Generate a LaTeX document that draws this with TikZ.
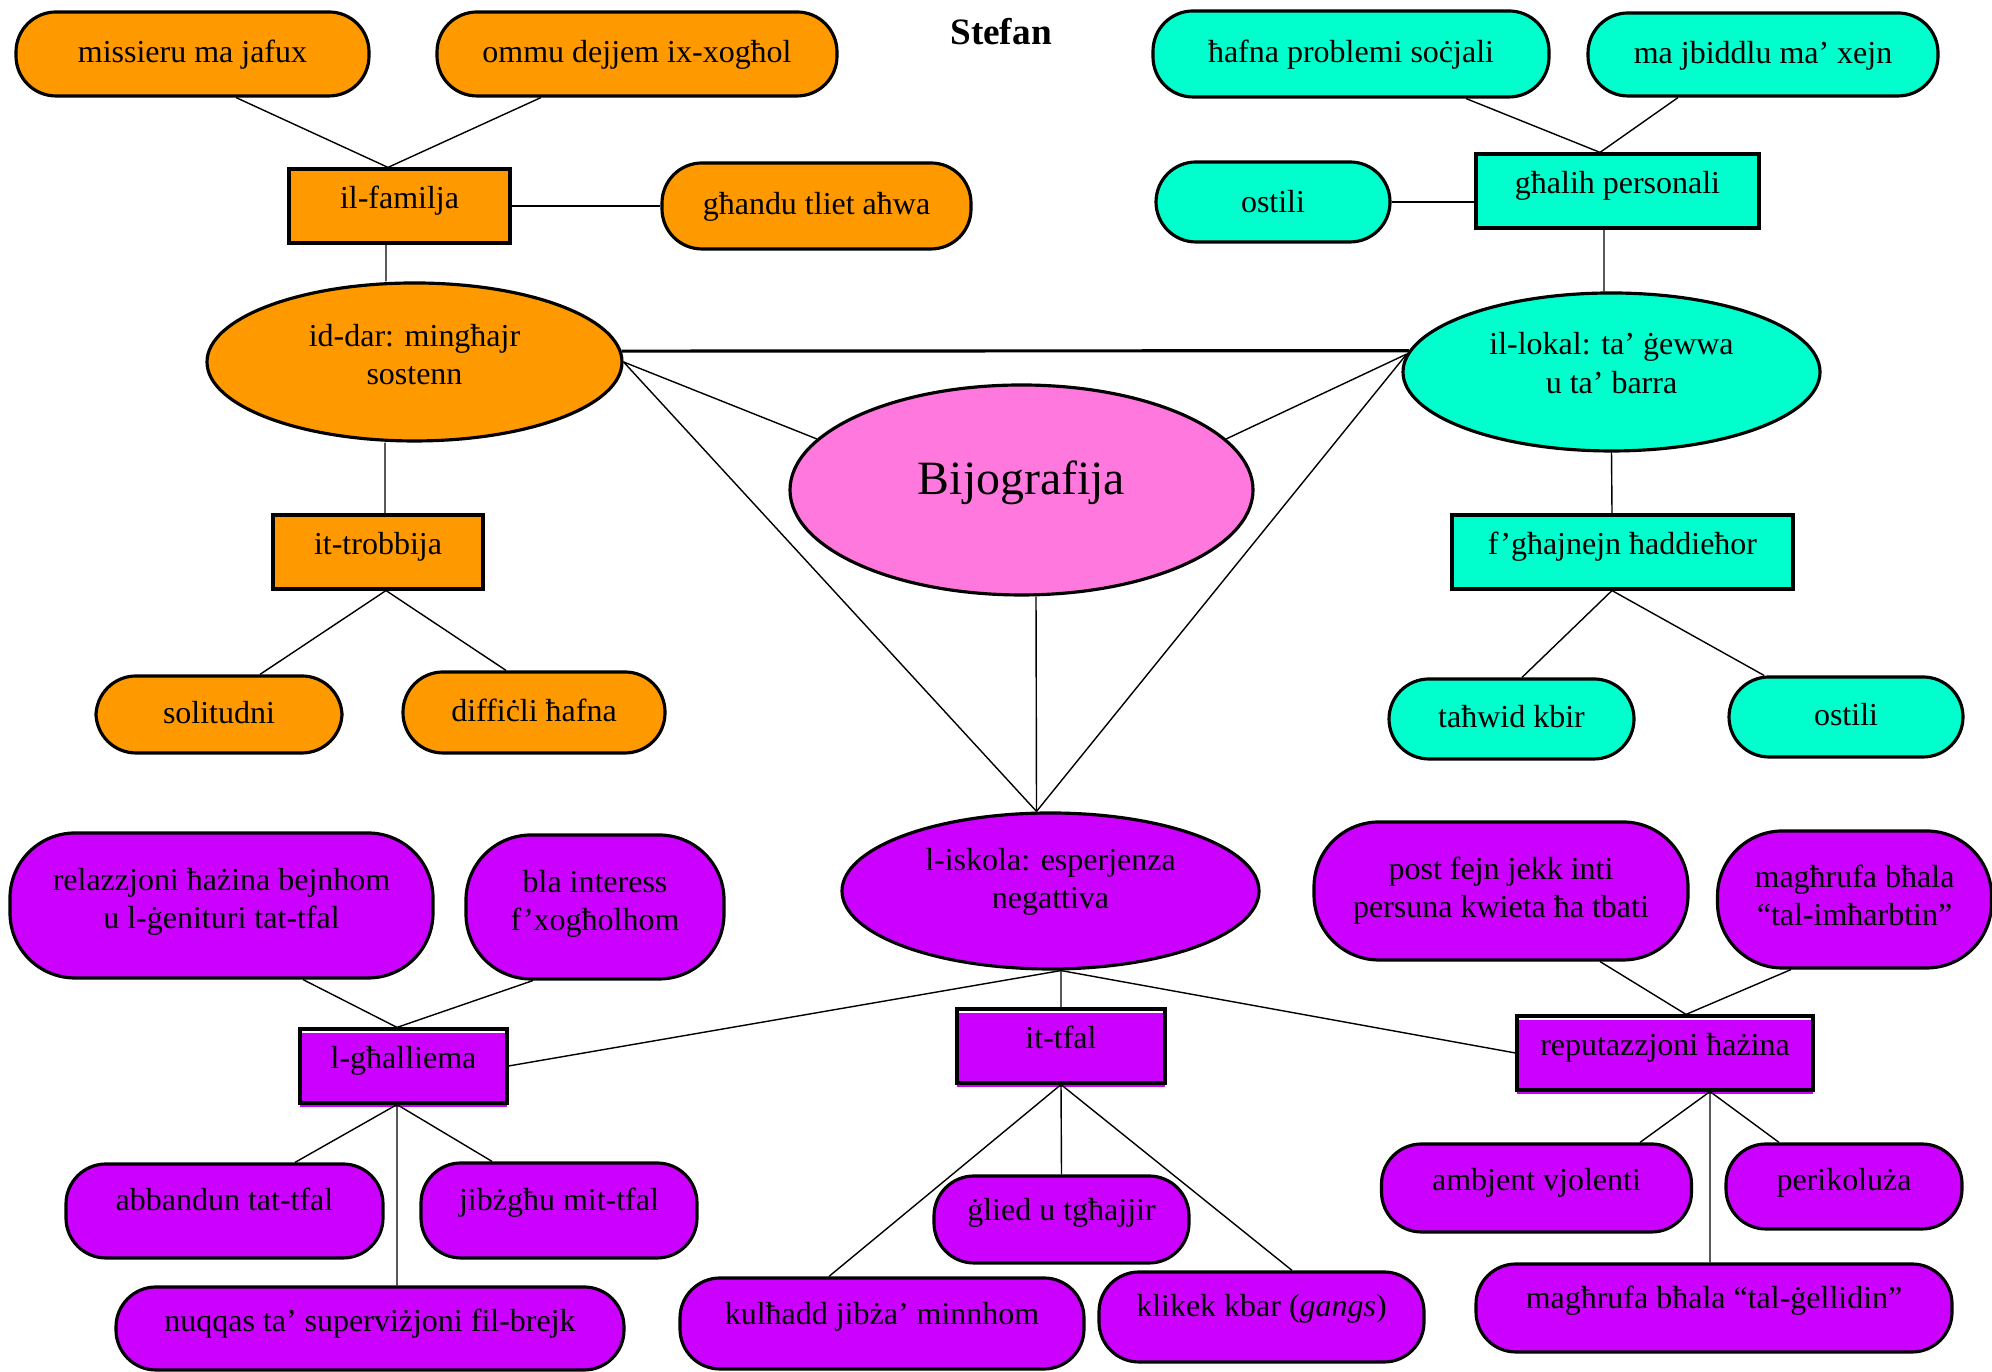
\documentclass[tikz,border=0pt]{standalone}
\usepackage{fontspec}
\setmainfont{Liberation Serif}
\usepackage{tikz}
\usetikzlibrary{calc,shapes.geometric}
\definecolor{orng}{rgb}{1.0, 0.6, 0.0}
\definecolor{aqua}{rgb}{0.0, 1.0, 0.8}
\definecolor{rosa}{rgb}{1.0, 0.47, 0.87}
\definecolor{purp}{rgb}{0.8, 0.0, 1.0}
\tikzset{
    mapnode/.style={draw, line width=0.9pt, inner sep=0pt, align=center,
        font=\fontsize{9.1}{10.9}\selectfont},
    sz/.style 2 args={minimum width=#1cm, minimum height=#2cm},
    pill/.style={mapnode, rectangle, rounded corners=0.4cm, fill=#1,
        text height=0.22cm, text depth=0.04cm},
    ppill/.style={pill=purp, text depth=0.2cm},
    tallpill/.style={mapnode, rectangle, rounded corners=0.65cm, fill=#1},
    box/.style={mapnode, rectangle, fill=#1, text height=0.22cm, text depth=0.16cm},
    sbox/.style={mapnode, rectangle, text height=0.22cm, text depth=0.16cm,
        preaction={fill=#1, transform canvas={yshift=-0.4mm}}},
    oval/.style={mapnode, ellipse, fill=#1},
    wire/.style={line width=0.4pt}
}

\begin{document}
\begin{tikzpicture}
\useasboundingbox (0,0) rectangle (19.92,13.72);
\node[font=\fontsize{10.6}{12}\selectfont\bfseries] (t0) at (10.01,13.40) {Stefan};

% family / home
\node[pill=orng, sz={3.53}{0.84}]      (f1) at (1.925,13.18)  {missieru ma jafux};
\node[pill=orng, sz={4.00}{0.84}]      (f2) at (6.37,13.18)   {ommu dejjem ix-xogħol};
\node[box=orng,  sz={2.21}{0.74}]      (f0) at (3.995,11.66)  {il-familja};
\node[pill=orng, sz={3.09}{0.86}]      (f3) at (8.165,11.66)  {għandu tliet aħwa};
\node[oval=orng, sz={4.15}{1.58}, text depth=0.15cm]
                                       (d0) at (4.145,10.10)  {id-dar: mingħajr\\sostenn};
\node[box=orng,  sz={2.10}{0.74}]      (d1) at (3.78,8.20)    {it-trobbija};
\node[pill=orng, sz={2.46}{0.77}]      (d2) at (2.19,6.575)   {solitudni};
\node[pill=orng, sz={2.62}{0.81}]      (d3) at (5.34,6.595)   {diffiċli ħafna};

% locality
\node[pill=aqua, sz={3.96}{0.86}]      (p1) at (13.51,13.18)  {ħafna problemi soċjali};
\node[pill=aqua, sz={3.50}{0.83}]      (p2) at (17.63,13.175) {ma jbiddlu ma’ xejn};
\node[pill=aqua, sz={2.34}{0.80}, text depth=0cm]
                                       (p3) at (12.73,11.70)  {ostili};
\node[box=aqua,  sz={2.83}{0.74}]      (p0) at (16.175,11.81) {għalih personali};
\node[oval=aqua, sz={4.17}{1.58}, text depth=0.18cm]
                                       (l0) at (16.115,10.00) {il-lokal: ta’ ġewwa\\u ta’ barra};
\node[box=aqua,  sz={3.41}{0.74}]      (g0) at (16.225,8.20)  {f’għajnejn ħaddieħor};
\node[pill=aqua, sz={2.45}{0.80}]      (g1) at (15.115,6.53)  {taħwid kbir};
\node[pill=aqua, sz={2.34}{0.80}]      (g2) at (18.46,6.55)   {ostili};

% centre
\node[oval=rosa, sz={4.63}{2.10}, font=\fontsize{13.6}{15}\selectfont, text depth=0.25cm]
                                       (b0) at (10.215,8.82)  {Bijografija};

% school
\node[oval=purp, sz={4.17}{1.56}, text depth=0.25cm]
                                       (s0) at (10.505,4.81)  {l-iskola: esperjenza\\negattiva};
\node[tallpill=purp, sz={4.23}{1.45}, text depth=0.135cm]
                                       (s2) at (2.215,4.665)  {relazzjoni ħażina bejnhom\\u l-ġenituri tat-tfal};
\node[tallpill=purp, sz={2.58}{1.44}, text depth=0.13cm]
                                       (s3) at (5.95,4.65)    {bla interess\\f’xogħolhom};
\node[tallpill=purp, sz={3.74}{1.38}]  (r1) at (15.01,4.81)   {post fejn jekk inti\\persuna kwieta ħa tbati};
\node[tallpill=purp, sz={2.74}{1.37}, text depth=0.08cm]
                                       (r2) at (18.545,4.725) {magħrufa bħala\\“tal-imħarbtin”};
\node[sbox=purp, sz={2.07}{0.74}]      (s1) at (4.035,3.06)   {l-għalliema};
\node[sbox=purp, sz={2.08}{0.74}]      (c0) at (10.61,3.26)   {it-tfal};
\node[sbox=purp, sz={2.96}{0.74}]      (r0) at (16.65,3.19)   {reputazzjoni ħażina};
\node[ppill,     sz={3.17}{0.94}, text depth=0.22cm]
                                       (s4) at (2.245,1.61)   {abbandun tat-tfal};
\node[ppill,     sz={2.76}{0.95}, text depth=0.21cm]
                                       (s5) at (5.59,1.615)   {jibżgħu mit-tfal};
\node[ppill,     sz={5.08}{0.83}, text depth=0.15cm]
                                       (s6) at (3.70,0.435)   {nuqqas ta’ superviżjoni fil-brejk};
\node[ppill,     sz={2.55}{0.87}]      (c1) at (10.615,1.525) {ġlied u tgħajjir};
\node[ppill,     sz={4.04}{0.91}]      (c2) at (8.82,0.485)   {kulħadd jibża’ minnhom};
\node[ppill,     sz={3.25}{0.90}, text depth=0.23cm]
                                       (c3) at (12.615,0.55)  {klikek kbar (\textit{gangs})};
\node[ppill,     sz={3.10}{0.88}, text depth=0.17cm]
                                       (r3) at (15.365,1.84)  {ambjent vjolenti};
\node[ppill,     sz={2.36}{0.85}, text depth=0.14cm]
                                       (r4) at (18.44,1.855)  {perikoluża};
\node[ppill,     sz={4.76}{0.88}]      (r5) at (17.14,0.64)   {magħrufa bħala “tal-ġellidin”};

% connectors
\coordinate (s0t) at ([xshift=-1.4mm]s0.north);
\coordinate (s0b) at ([xshift=1.05mm]s0.south);
\draw[wire] ([xshift=4.35mm]f1.south) -- ([xshift=-1.15mm]f0.north);
\draw[wire] ([xshift=-9.6mm]f2.south) -- ([xshift=-1.15mm]f0.north);
\draw[wire] (f0.east) -- (f3.west);
\draw[wire] ([xshift=-1.35mm]f0.south) -- ([xshift=-2.85mm]d0.north);
\draw[wire] ([xshift=-2.95mm]d0.south) -- ([xshift=0.7mm]d1.north);
\draw[wire] ([xshift=0.8mm]d1.south) -- ([xshift=4.1mm]d2.north);
\draw[wire] ([xshift=0.8mm]d1.south) -- ([xshift=-2.8mm]d3.north);
\draw[line width=0.9pt] (d0.3) -- (l0.174);
\draw[wire] (d0.east) -- (b0.166);
\draw[wire] (d0.east) -- (s0t);
\draw[wire] (l0.175) -- (b0.14);
\draw[wire] (l0.175) -- (s0t);
\draw[wire] ([xshift=1.45mm]b0.south) -- (s0t);
\draw[wire] ([xshift=11.5mm]p1.south) -- ([xshift=-1.75mm]p0.north);
\draw[wire] ([xshift=-8.5mm]p2.south) -- ([xshift=-1.75mm]p0.north);
\draw[wire] (p3.east) -- (p3.east -| p0.west);
\draw[wire] ([xshift=-1.35mm]p0.south) -- ([xshift=-0.75mm]l0.north);
\draw[wire] (l0.south) -- ([xshift=-1.05mm]g0.north);
\draw[wire] ([xshift=-1.05mm]g0.south) -- ([xshift=1.05mm]g1.north);
\draw[wire] ([xshift=-1.05mm]g0.south) -- ([xshift=-8.2mm]g2.north);
\draw[wire] (s0b) -- (s1.east);
\draw[wire] (s0b) -- (c0.north);
\draw[wire] (s0b) -- (r0.west);
\draw[wire] ([xshift=8.15mm]s2.south) -- ([xshift=-0.65mm]s1.north);
\draw[wire] ([xshift=-6.2mm]s3.south) -- ([xshift=-0.65mm]s1.north);
\draw[wire] ([xshift=-0.65mm]s1.south) -- ([xshift=7.05mm]s4.north);
\draw[wire] ([xshift=-0.65mm]s1.south) -- ([xshift=-6.7mm]s5.north);
\draw[wire] ([xshift=-0.65mm]s1.south) -- ([xshift=2.7mm]s6.north);
\draw[wire] (c0.south) -- (c1.north);
\draw[wire] (c0.south) -- ([xshift=-5.3mm]c2.north);
\draw[wire] (c0.south) -- ([xshift=3.05mm]c3.north);
\draw[wire] ([xshift=9.9mm]r1.south) -- ([xshift=2.1mm]r0.north);
\draw[wire] ([xshift=-6.35mm]r2.south) -- ([xshift=2.1mm]r0.north);
\draw[wire] ([xshift=4.5mm]r0.south) -- ([xshift=10.35mm]r3.north);
\draw[wire] ([xshift=4.5mm]r0.south) -- ([xshift=-6.5mm]r4.north);
\draw[wire] ([xshift=4.5mm]r0.south) -- ([xshift=-0.4mm]r5.north);
\end{tikzpicture}
\end{document}
